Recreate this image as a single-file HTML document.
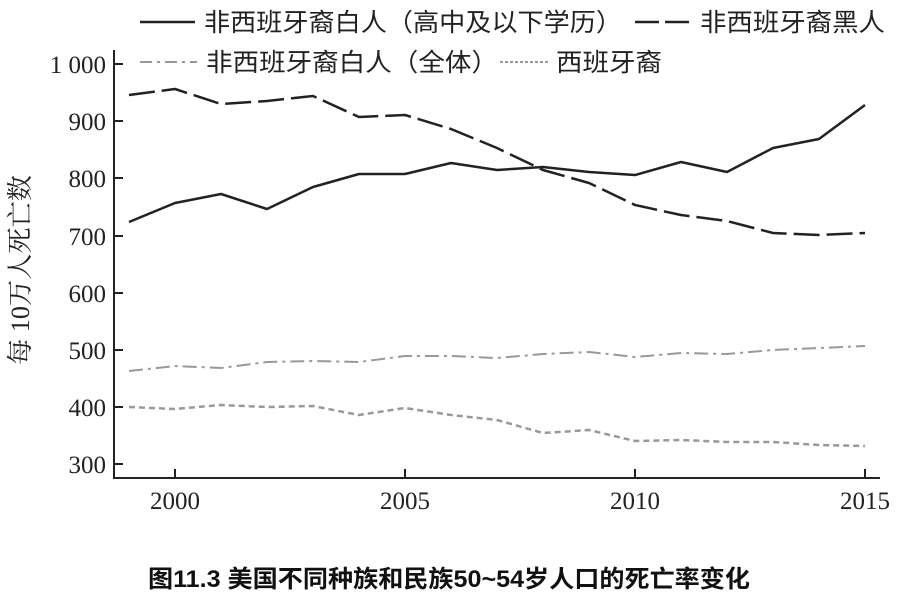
<!DOCTYPE html>
<html><head><meta charset="utf-8"><style>body{margin:0;background:#fff}svg{display:block}</style></head><body>
<svg width="916" height="606" xmlns="http://www.w3.org/2000/svg" font-family="'Liberation Serif','Noto Serif CJK SC',serif">
<rect width="916" height="606" fill="#fff"/>
<g font-size="25" fill="#222" font-family="'Liberation Sans','Noto Sans CJK SC',sans-serif">
<line x1="140" y1="22" x2="195" y2="22" stroke="#222" stroke-width="2.5"/>
<text x="204" y="31" textLength="418" lengthAdjust="spacingAndGlyphs">非西班牙裔白人（高中及以下学历）</text>
<line x1="635" y1="22" x2="695" y2="22" stroke="#222" stroke-width="2.5" stroke-dasharray="24,6"/>
<text x="700" y="31" textLength="185" lengthAdjust="spacingAndGlyphs">非西班牙裔黑人</text>
<line x1="140" y1="62" x2="197" y2="62" stroke="#999" stroke-width="2" stroke-dasharray="12,5,3,5"/>
<text x="206" y="71" textLength="292" lengthAdjust="spacingAndGlyphs">非西班牙裔白人（全体）</text>
<line x1="500" y1="62" x2="548" y2="62" stroke="#999" stroke-width="2" stroke-dasharray="3,2"/>
<text x="556" y="71" textLength="106" lengthAdjust="spacingAndGlyphs">西班牙裔</text>
</g>
<g stroke="#222" stroke-width="2" fill="none">
<line x1="114" y1="50" x2="114" y2="479"/>
<line x1="113" y1="478" x2="880" y2="478"/>
<line x1="114" y1="64" x2="123" y2="64"/><line x1="114" y1="121" x2="123" y2="121"/>
<line x1="114" y1="178" x2="123" y2="178"/><line x1="114" y1="236" x2="123" y2="236"/>
<line x1="114" y1="293" x2="123" y2="293"/><line x1="114" y1="350" x2="123" y2="350"/>
<line x1="114" y1="407" x2="123" y2="407"/><line x1="114" y1="464" x2="123" y2="464"/>
<line x1="175" y1="478" x2="175" y2="469"/><line x1="405" y1="478" x2="405" y2="469"/>
<line x1="635" y1="478" x2="635" y2="469"/><line x1="865" y1="478" x2="865" y2="469"/>
</g>
<g font-size="25" fill="#222" text-anchor="end">
<text x="106" y="73">1 000</text><text x="106" y="130">900</text><text x="106" y="187">800</text>
<text x="106" y="245">700</text><text x="106" y="302">600</text><text x="106" y="359">500</text>
<text x="106" y="416">400</text><text x="106" y="473">300</text>
</g>
<g font-size="25" fill="#222" text-anchor="middle">
<text x="175" y="509">2000</text><text x="405" y="509">2005</text><text x="635" y="509">2010</text><text x="865" y="509">2015</text>
</g>
<text transform="translate(29,270) rotate(-90)" font-size="26" fill="#222" text-anchor="middle" textLength="190" lengthAdjust="spacingAndGlyphs">每 10万人死亡数</text>
<g fill="none" stroke-linejoin="round">
<polyline stroke="#222" stroke-width="2.5" points="129,222 175,203 221,194 267,209 313,187 359,174 405,174 451,163 497,170 543,167 589,172 635,175 681,162 727,172 773,148 819,139 865,105"/>
<polyline stroke="#222" stroke-width="2.5" stroke-dasharray="26,7" points="129,95 175,89 221,104 267,101 313,96 359,117 405,115 451,129 497,148 543,170 589,183 635,205 681,215 727,221 773,233 819,235 865,233"/>
<polyline stroke="#999" stroke-width="2" stroke-dasharray="14,5,3,5" points="129,371 175,366 221,368 267,362 313,361 359,362 405,356 451,356 497,358 543,354 589,352 635,357 681,353 727,354 773,350 819,348 865,346"/>
<polyline stroke="#999" stroke-width="2.5" stroke-dasharray="6,4" points="129,407 175,409 221,405 267,407 313,406 359,415 405,408 451,415 497,420 543,433 589,430 635,441 681,440 727,442 773,442 819,445 865,446"/>
</g>
<text x="148" y="587" font-size="24" font-weight="bold" fill="#111" textLength="602" lengthAdjust="spacingAndGlyphs" font-family="'Liberation Sans','Noto Sans CJK SC',sans-serif">图11.3 美国不同种族和民族50~54岁人口的死亡率变化</text>
</svg>
</body></html>
